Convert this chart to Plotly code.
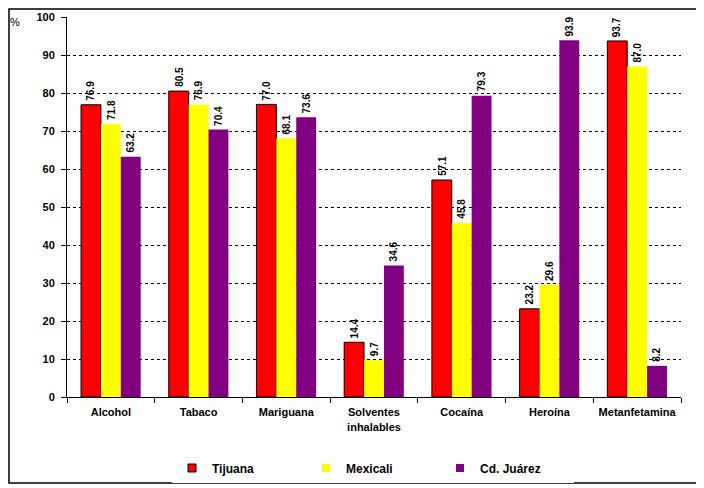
import plotly.graph_objects as go

categories = ["Alcohol", "Tabaco", "Mariguana", "Solventes<br>inhalables",
              "Cocaína", "Heroína", "Metanfetamina"]
tijuana = [76.9, 80.5, 77.0, 14.4, 57.1, 23.2, 93.7]
mexicali = [71.8, 76.9, 68.1, 9.7, 45.8, 29.6, 87.0]
juarez = [63.2, 70.4, 73.6, 34.6, 79.3, 93.9, 8.2]

FONT = "Liberation Sans, Arial, sans-serif"

# the page adds an 8px body margin, so the figure is 8px smaller and
# all positions are given in window pixels minus OFF
OFF = 8
W, H = 704 - OFF, 488 - OFF
L, T = 67 - OFF, 17 - OFF
R, B = 23, 91
PW, PH = W - L - R, H - T - B
BARGAP = 0.32
bar_px = PW / len(categories) * (1 - BARGAP) / 3


def px_x(x):
    return (x - OFF - L) / PW


def px_y(y):
    return (T + PH - (y - OFF)) / PH


series = [
    ("Tijuana", tijuana, "#FF0000", 1),
    ("Mexicali", mexicali, "#FFFF00", 0),
    ("Cd. Juárez", juarez, "#800080", 0),
]

fig = go.Figure()
for i, (name, vals, color, lw) in enumerate(series):
    fig.add_trace(go.Bar(
        x=categories,
        y=vals,
        name=name,
        showlegend=False,
        marker=dict(color=color, line=dict(color="black", width=lw)),
    ))
    for cat, v in zip(categories, vals):
        fig.add_annotation(
            x=cat, y=v, text=f"{v:.1f}", textangle=-90,
            showarrow=False, xanchor="center", yanchor="bottom",
            xshift=(i - 1) * bar_px, yshift=2,
            font=dict(family=FONT, size=10, color="black", weight="bold"),
        )

# legend entries with small square symbols
for name, vals, color, lw in series:
    fig.add_trace(go.Scatter(
        x=[None], y=[None], mode="markers", name=name,
        marker=dict(symbol="square", size=8, color=color,
                    line=dict(color="black", width=lw)),
    ))

fig.update_layout(
    width=W,
    height=H,
    margin=dict(l=L, r=R, t=T, b=B, autoexpand=False),
    paper_bgcolor="white",
    plot_bgcolor="white",
    barmode="group",
    bargap=BARGAP,
    bargroupgap=0,
    font=dict(family=FONT, size=11, color="black"),
    showlegend=True,
    legend=dict(
        orientation="h",
        x=px_x(172), xanchor="left",
        y=px_y(468), yanchor="middle",
        entrywidth=89,
        itemwidth=30,
        font=dict(family=FONT, size=12, color="black", weight="bold"),
    ),
    xaxis=dict(
        showline=True, linecolor="black", linewidth=1,
        ticks="outside", tickson="boundaries", ticklen=5, tickcolor="black",
        tickangle=0, automargin=False, ticklabelstandoff=5,
        tickfont=dict(family=FONT, size=11, weight="bold"),
    ),
    yaxis=dict(
        range=[0, 100],
        dtick=10,
        showline=True, linecolor="black", linewidth=1,
        ticks="outside", ticklen=5, tickcolor="black", automargin=False,
        ticklabelstandoff=4,
        tickfont=dict(family=FONT, size=11, weight="bold"),
        showgrid=True, gridcolor="black", griddash="dot", gridwidth=1,
        zeroline=False,
    ),
)

# "%" unit label at top left
fig.add_annotation(
    text="%", xref="paper", yref="paper",
    x=px_x(15), y=px_y(22), xanchor="center", yanchor="middle",
    showarrow=False, font=dict(family=FONT, size=11),
)

# outer chart border
fig.add_shape(
    type="rect", xref="paper", yref="paper",
    x0=px_x(OFF + 1), x1=px_x(700),
    y0=px_y(483), y1=px_y(OFF + 1),
    line=dict(color="black", width=1.5),
)

fig.write_html("out.html")
